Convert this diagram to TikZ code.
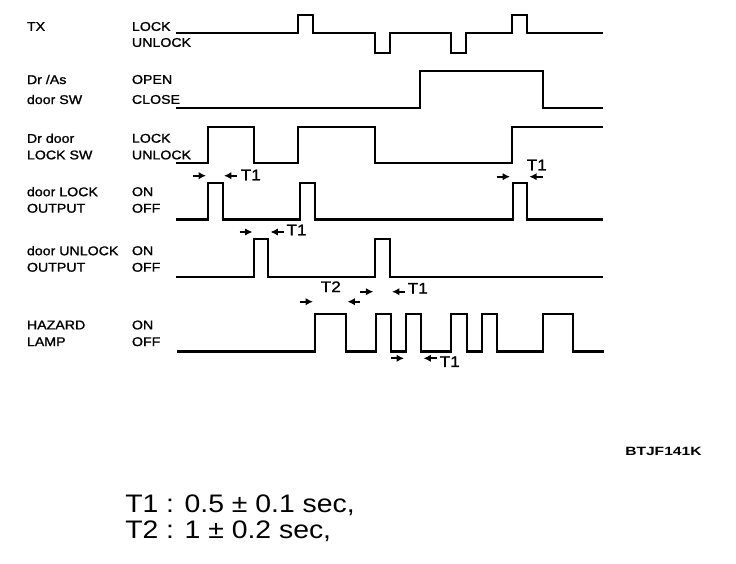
\documentclass[tikz,border=0pt]{standalone}
\usepackage{fontspec}
\setmainfont{Liberation Sans}[FakeStretch=1.12]
\newfontfamily\labelfont{Liberation Sans}[FakeStretch=1.12, FakeBold=1.2]
\newfontfamily\codefont{Liberation Sans}[FakeStretch=1.3]
\usetikzlibrary{arrows.meta}

\begin{document}
\begin{tikzpicture}[
    x={(0.75pt,0)}, y={(0,-0.75pt)}, >={Latex[length=5.5pt,width=5.5pt]},
    % --- STYLES ---
    wave/.style={line width=1.6pt, line join=miter},
    gap_arrow/.style={->, line width=1.4pt},
    sig_name/.style={anchor=west, inner sep=0pt, font=\labelfont\fontsize{9.5}{11}\selectfont},
    gap_label/.style={anchor=west, inner sep=0pt, font=\labelfont\fontsize{11.5}{13}\selectfont},
    note_text/.style={anchor=base west, inner sep=0pt, font=\fontsize{19}{23}\selectfont}
]
\useasboundingbox (0,0) rectangle (736,564);

% --- 1. SIGNAL NAMES (left column) ---
\node[sig_name] (txName) at (26.7,26.5) {TX};
\node[sig_name] (swName1) at (26.7,79.5) {Dr /As};
\node[sig_name] (swName2) at (26.7,99.5) {door SW};
\node[sig_name] (lsName1) at (26.7,138.3) {Dr door};
\node[sig_name] (lsName2) at (26.7,155) {LOCK SW};
\node[sig_name] (loName1) at (26.7,191.7) {door LOCK};
\node[sig_name] (loName2) at (26.7,208.3) {OUTPUT};
\node[sig_name] (uoName1) at (26.7,250.7) {door UNLOCK};
\node[sig_name] (uoName2) at (26.7,267.3) {OUTPUT};
\node[sig_name] (hzName1) at (26.7,325) {HAZARD};
\node[sig_name] (hzName2) at (26.7,341.7) {LAMP};

% --- 2. STATE NAMES (second column) ---
\node[sig_name] (txHi) at (131.7,26.5) {LOCK};
\node[sig_name] (txLo) at (131.7,42.5) {UNLOCK};
\node[sig_name] (swHi) at (131.7,79.5) {OPEN};
\node[sig_name] (swLo) at (131.7,99.5) {CLOSE};
\node[sig_name] (lsHi) at (131.7,138.3) {LOCK};
\node[sig_name] (lsLo) at (131.7,155) {UNLOCK};
\node[sig_name] (loHi) at (131.7,191.7) {ON};
\node[sig_name] (loLo) at (131.7,208.3) {OFF};
\node[sig_name] (uoHi) at (131.7,250.7) {ON};
\node[sig_name] (uoLo) at (131.7,267.3) {OFF};
\node[sig_name] (hzHi) at (131.7,325) {ON};
\node[sig_name] (hzLo) at (131.7,341.7) {OFF};

% --- 3. WAVEFORMS ---
% TX
\draw[wave] (176,33.4) -- (298,33.4) -- (298,15) -- (313,15) -- (313,33.4)
    -- (375,33.4) -- (375,52.7) -- (390,52.7) -- (390,33.4)
    -- (450.7,33.4) -- (450.7,52.7) -- (466,52.7) -- (466,33.4)
    -- (511.7,33.4) -- (511.7,15) -- (526.7,15) -- (526.7,33.4) -- (603,33.4);
% Dr/As door SW
\draw[wave] (176,107.7) -- (420,107.7) -- (420,71) -- (542.7,71) -- (542.7,107.7) -- (603,107.7);
% Dr door LOCK SW
\draw[wave] (176,162.7) -- (208.3,162.7) -- (208.3,126.7) -- (254,126.7) -- (254,162.7)
    -- (298,162.7) -- (298,126.7) -- (375,126.7) -- (375,162.7)
    -- (511.7,162.7) -- (511.7,126.7) -- (603,126.7);
% door LOCK OUTPUT
\draw[wave] (176,219.5) -- (208.3,219.5) -- (208.3,182.7) -- (222.7,182.7) -- (222.7,219.5)
    -- (300,219.5) -- (300,182.7) -- (315,182.7) -- (315,219.5)
    -- (512.7,219.5) -- (512.7,182.7) -- (527.3,182.7) -- (527.3,219.5) -- (603,219.5);
% door UNLOCK OUTPUT
\draw[wave] (176,276.7) -- (254,276.7) -- (254,239) -- (268.3,239) -- (268.3,276.7)
    -- (375,276.7) -- (375,239) -- (390,239) -- (390,276.7) -- (603,276.7);
% HAZARD LAMP
\draw[wave] (176.5,351.5) -- (315,351.5) -- (315,313.7) -- (346,313.7) -- (346,351.5)
    -- (376,351.5) -- (376,313.7) -- (390.7,313.7) -- (390.7,351.5)
    -- (405.7,351.5) -- (405.7,313.7) -- (421,313.7) -- (421,351.5)
    -- (451,351.5) -- (451,313.7) -- (466.7,313.7) -- (466.7,351.5)
    -- (481.7,351.5) -- (481.7,313.7) -- (497.3,313.7) -- (497.3,351.5)
    -- (543.3,351.5) -- (543.3,313.7) -- (573.3,313.7) -- (573.3,351.5) -- (604,351.5);

% --- 4. TIMING MARKS ---
% lock output, first pulse
\draw[gap_arrow] (192.7,175.7) -- (206,175.7);
\draw[gap_arrow] (237.3,175.7) -- (224,175.7);
\node[gap_label] (t1a) at (240.5,175) {T1};
% lock output, last pulse
\draw[gap_arrow] (496.7,176.7) -- (510,176.7);
\draw[gap_arrow] (542.7,176.7) -- (529.3,176.7);
\node[gap_label] (t1b) at (526.5,165) {T1};
% unlock output
\draw[gap_arrow] (239.5,232) -- (252.5,232);
\draw[gap_arrow] (284,232) -- (270.5,232);
\node[gap_label] (t1c) at (286.2,230) {T1};
% hazard, first flash
\draw[gap_arrow] (300,301.7) -- (313,301.7);
\draw[gap_arrow] (360,301.7) -- (347.5,301.7);
\node[gap_label] (t2a) at (320.5,286.7) {T2};
% hazard, second flash
\draw[gap_arrow] (360,291.7) -- (373.3,291.7);
\draw[gap_arrow] (405,291.7) -- (392,291.7);
\node[gap_label] (t1d) at (407.5,288.3) {T1};
% hazard, pause
\draw[gap_arrow] (391,358.3) -- (404,358.3);
\draw[gap_arrow] (436.7,358.3) -- (423.5,358.3);
\node[gap_label] (t1e) at (439.5,361.7) {T1};

% --- LABELS ---
\node[anchor=base west, inner sep=0pt, font=\codefont\fontsize{9}{11}\selectfont\bfseries] (figCode) at (625,455.7) {BTJF141K};
\node[note_text] (noteT1) at (125,512.7) {T1 : 0.5 ± 0.1 sec,};
\node[note_text] (noteT2) at (125,538) {T2 : 1 ± 0.2 sec,};

\end{tikzpicture}
\end{document}
